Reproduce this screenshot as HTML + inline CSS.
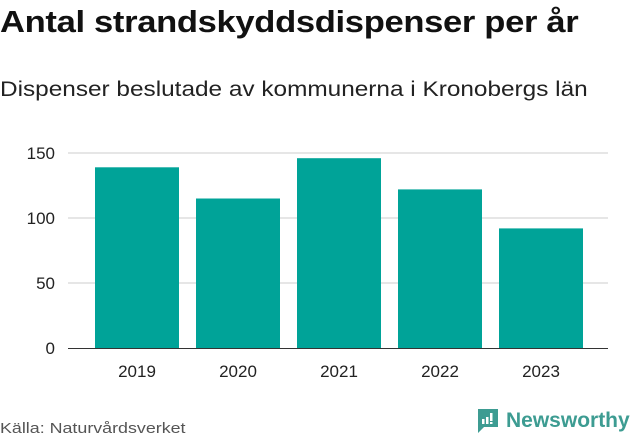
<!DOCTYPE html>
<html><head><meta charset="utf-8"><style>
body{margin:0;width:631px;height:439px;background:#fff;font-family:"Liberation Sans","DejaVu Sans",sans-serif;overflow:hidden;position:relative}
.t{position:absolute;left:0;top:4px;font-size:31px;font-weight:bold;color:#111;white-space:nowrap;letter-spacing:-0.3px;transform:scaleX(1.115);transform-origin:0 0}
.s{position:absolute;left:0;top:78px;font-size:21px;color:#222;white-space:nowrap;transform:scaleX(1.16);transform-origin:0 0}
.src{position:absolute;left:0;top:420px;font-size:15px;color:#555;white-space:nowrap;transform:scaleX(1.19);transform-origin:0 0}
.logo{position:absolute;left:476px;top:408px;font-size:21px;color:#3d9c92;font-weight:bold;display:flex;align-items:center;gap:6px}
</style></head><body>
<div class="t">Antal strandskyddsdispenser per år</div>
<div class="s">Dispenser beslutade av kommunerna i Kronobergs län</div>
<svg id="c" width="631" height="439" style="position:absolute;left:0;top:0"></svg>
<div class="src">Källa: Naturvårdsverket</div>
<div class="logo"><svg width="24" height="26" viewBox="0 0 24 26"><path d="M2 1h20v18H8l-6 6z" fill="#3d9c92"/><rect x="6" y="11" width="2.5" height="5" fill="#fff"/><rect x="10" y="9" width="2.5" height="7" fill="#fff"/><rect x="14" y="5" width="2.5" height="8" fill="#fff"/><rect x="14" y="14" width="2.5" height="2" fill="#fff"/></svg><span>Newsworthy</span></div>
<script>
const categories=["2019","2020","2021","2022","2023"];
const values=[139,115,146,122,92];
const yTicks=[0,50,100,150];
const svg=document.getElementById('c');
const NS='http://www.w3.org/2000/svg';
const y0=348,k=1.3;
function y(v){return y0-v*k;}
function x(i){return 86.5+i*101;}
function mk(t,a){const e=document.createElementNS(NS,t);for(const n in a)e.setAttribute(n,a[n]);svg.appendChild(e);return e;}
yTicks.forEach(v=>{
 if(v>0){const g=mk('line',{x1:68,x2:608,y1:y(v),y2:y(v),stroke:'#ddd','stroke-width':1.5});
 
 }
 const t=mk('text',{x:55,y:y(v)+6,'text-anchor':'end','font-size':17,fill:'#222'});
 t.textContent=v;
 
 
});
values.forEach((v,i)=>{
 const r=mk('rect',{x:x(i)+8.5,y:y(v),width:84,height:v*k,fill:'#00a398'});
 
 
 const t=mk('text',{x:x(i)+50.5,y:377,'text-anchor':'middle','font-size':17,fill:'#222'});
 t.textContent=categories[i];
 
 
});
const ax=mk('line',{x1:68,x2:608,y1:348.5,y2:348.5,stroke:'#333','stroke-width':1});


</script>
</body></html>
